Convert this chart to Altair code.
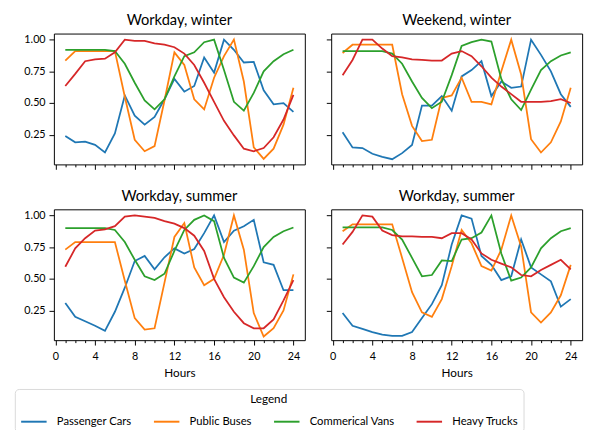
import altair as alt
import pandas as pd

hours = list(range(1, 25))
series = ["Passenger Cars", "Public Buses", "Commerical Vans", "Heavy Trucks"]
colors = ["#1f77b4", "#ff7f0e", "#2ca02c", "#d62728"]
titles = ["Workday, winter", "Weekend, winter", "Workday, summer", "Workday, summer"]

# Panel 1: Workday, winter
p1_cars = [0.24, 0.19, 0.195, 0.17, 0.11, 0.26, 0.56, 0.40, 0.33, 0.39, 0.53, 0.69,
           0.59, 0.635, 0.86, 0.74, 1.00, 0.92, 0.82, 0.825, 0.60, 0.49, 0.50, 0.43]
p1_buses = [0.835, 0.91, 0.91, 0.91, 0.91, 0.91, 0.55, 0.21, 0.12, 0.16, 0.52, 0.90,
            0.80, 0.53, 0.45, 0.70, 0.87, 1.00, 0.67, 0.15, 0.06, 0.14, 0.33, 0.62]
p1_vans = [0.92, 0.92, 0.92, 0.92, 0.92, 0.91, 0.81, 0.66, 0.52, 0.45, 0.53, 0.71,
           0.87, 0.90, 0.98, 1.00, 0.76, 0.51, 0.44, 0.58, 0.75, 0.83, 0.885, 0.92]
p1_trucks = [0.635, 0.73, 0.83, 0.845, 0.85, 0.90, 1.00, 0.99, 0.99, 0.97, 0.96, 0.94,
             0.89, 0.80, 0.66, 0.51, 0.36, 0.245, 0.14, 0.12, 0.145, 0.23, 0.37, 0.565]

# Panel 2: Weekend, winter
p2_cars = [0.27, 0.15, 0.145, 0.10, 0.075, 0.057, 0.105, 0.17, 0.48, 0.48, 0.555, 0.44,
           0.71, 0.76, 0.83, 0.555, 0.67, 0.62, 0.63, 1.00, 0.88, 0.75, 0.57, 0.47]
p2_buses = [0.895, 0.96, 0.96, 0.96, 0.96, 0.96, 0.57, 0.32, 0.20, 0.21, 0.54, 0.56,
            0.70, 0.51, 0.51, 0.49, 0.75, 1.00, 0.725, 0.215, 0.11, 0.19, 0.355, 0.62]
p2_vans = [0.91, 0.91, 0.91, 0.91, 0.91, 0.89, 0.81, 0.67, 0.54, 0.46, 0.51, 0.72,
           0.95, 0.98, 1.00, 0.985, 0.69, 0.53, 0.445, 0.605, 0.76, 0.83, 0.875, 0.90]
p2_trucks = [0.72, 0.84, 1.00, 1.00, 0.93, 0.87, 0.86, 0.845, 0.84, 0.835, 0.835, 0.89,
             0.91, 0.87, 0.79, 0.70, 0.63, 0.57, 0.51, 0.51, 0.51, 0.515, 0.53, 0.50]

# Panel 3: Workday, summer
p3_cars = [0.31, 0.20, 0.165, 0.13, 0.09, 0.24, 0.43, 0.64, 0.68, 0.575, 0.67, 0.74,
           0.70, 0.735, 0.86, 1.00, 0.79, 0.88, 0.915, 0.965, 0.63, 0.61, 0.41, 0.41]
p3_buses = [0.73, 0.79, 0.79, 0.79, 0.79, 0.79, 0.485, 0.19, 0.10, 0.11, 0.47, 0.83,
            0.94, 0.59, 0.45, 0.50, 0.69, 1.00, 0.73, 0.23, 0.045, 0.11, 0.25, 0.535]
p3_vans = [0.90, 0.90, 0.90, 0.90, 0.90, 0.885, 0.79, 0.65, 0.52, 0.49, 0.54, 0.72,
           0.885, 0.965, 1.00, 0.955, 0.665, 0.51, 0.47, 0.60, 0.75, 0.83, 0.875, 0.905]
p3_trucks = [0.595, 0.74, 0.82, 0.88, 0.89, 0.915, 0.99, 1.00, 0.99, 0.98, 0.955, 0.935,
             0.90, 0.84, 0.72, 0.50, 0.355, 0.24, 0.15, 0.11, 0.11, 0.18, 0.33, 0.49]

# Panel 4: Workday, summer (second)
p4_cars = [0.23, 0.13, 0.105, 0.08, 0.06, 0.05, 0.05, 0.08, 0.19, 0.30, 0.45, 0.77,
           1.00, 0.975, 0.68, 0.61, 0.49, 0.52, 0.81, 0.59, 0.535, 0.48, 0.28, 0.34]
p4_buses = [0.875, 0.93, 0.93, 0.93, 0.93, 0.93, 0.665, 0.395, 0.235, 0.20, 0.34, 0.60,
            0.885, 0.78, 0.60, 0.565, 0.73, 1.00, 0.755, 0.235, 0.155, 0.235, 0.37, 0.61]
p4_vans = [0.905, 0.905, 0.905, 0.905, 0.905, 0.885, 0.81, 0.665, 0.52, 0.53, 0.645, 0.64,
           0.81, 0.82, 0.865, 1.00, 0.70, 0.485, 0.51, 0.59, 0.74, 0.82, 0.875, 0.90]
p4_trucks = [0.77, 0.87, 1.00, 0.99, 0.88, 0.845, 0.835, 0.835, 0.83, 0.83, 0.82, 0.86,
             0.86, 0.81, 0.70, 0.65, 0.62, 0.59, 0.53, 0.52, 0.57, 0.61, 0.65, 0.575]

panels = [
    [p1_cars, p1_buses, p1_vans, p1_trucks],
    [p2_cars, p2_buses, p2_vans, p2_trucks],
    [p3_cars, p3_buses, p3_vans, p3_trucks],
    [p4_cars, p4_buses, p4_vans, p4_trucks],
]

FONT = "Lato"
W, H = 257, 134

color_scale = alt.Scale(domain=series, range=colors)


def make_panel(idx):
    vals = panels[idx]
    bottom = idx >= 2
    left = idx % 2 == 0
    x_axis = alt.Axis(
        values=list(range(0, 25)),
        labels=bottom,
        labelExpr="datum.value % 4 === 0 ? datum.label : ''",
        tickSize=alt.ExprRef(expr="datum.value % 4 === 0 ? 5 : 2.5"),
        title="Hours" if bottom else None,
        grid=False,
        domain=False,
        labelPadding=6,
        titlePadding=6,
    )
    y_axis = alt.Axis(
        values=[0.25, 0.5, 0.75, 1.0],
        format=".2f",
        labels=left,
        title=None,
        grid=False,
        domain=False,
        tickSize=5,
        labelPadding=4,
    )
    layers = []
    for s, v in zip(series, vals):
        df = pd.DataFrame({"hour": hours, "value": v, "series": s})
        layers.append(
            alt.Chart(df).mark_line(strokeWidth=1.8).encode(
                x=alt.X("hour:Q", scale=alt.Scale(domain=[-0.15, 25.15], nice=False, zero=False), axis=x_axis),
                y=alt.Y("value:Q", scale=alt.Scale(domain=[0.016, 1.048], nice=False, zero=False), axis=y_axis),
                color=alt.Color(
                    "series:N",
                    scale=color_scale,
                    legend=alt.Legend(
                        title="Legend",
                        orient="none",
                        legendX=-40,
                        legendY=364,
                        direction="horizontal",
                        columns=4,
                    ),
                ),
            )
        )
    return alt.layer(*layers).properties(width=W, height=H, title=titles[idx])


row1 = alt.hconcat(make_panel(0), make_panel(1), spacing=20)
row2 = alt.hconcat(make_panel(2), make_panel(3), spacing=20)

chart = alt.vconcat(row1, row2, spacing=18).configure(
    font=FONT,
).configure_view(
    stroke="black", strokeWidth=1
).configure_axis(
    labelFont=FONT, labelFontSize=11, labelColor="black", tickColor="black",
    titleFont=FONT, titleFontSize=12, titleFontWeight="normal", titleColor="black",
).configure_title(
    font=FONT, fontSize=15, fontWeight="normal", color="black", anchor="middle", offset=6,
).configure_legend(
    titleFont=FONT, titleFontSize=12, titleFontWeight="normal", titleColor="black",
    titleAnchor="middle", labelFont=FONT, labelFontSize=11.5, labelColor="black",
    symbolType="stroke", symbolSize=680, symbolStrokeWidth=2, labelOffset=9,
    columnPadding=18, strokeColor="#d9d9d9", cornerRadius=4, padding=5,
    fillColor="white", titlePadding=2,
).properties(padding={"left": 6, "top": -1, "right": 5, "bottom": 0})

chart.save("out.html", embed_options={"renderer": "svg", "actions": False})
